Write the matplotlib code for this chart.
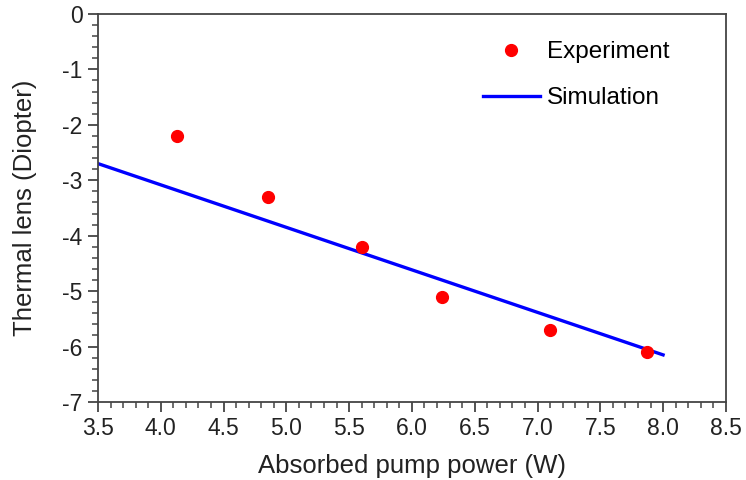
import matplotlib
matplotlib.use("Agg")
import matplotlib.pyplot as plt
from matplotlib.ticker import MultipleLocator, FormatStrFormatter, FuncFormatter

plt.rcParams['font.family'] = ['Liberation Sans', 'DejaVu Sans']

exp_x = [4.13, 4.85, 5.60, 6.24, 7.10, 7.87]
exp_y = [-2.2, -3.3, -4.2, -5.1, -5.7, -6.1]
sim_x = [3.5, 8.0]
sim_y = [-2.7, -6.15]

fig = plt.figure(figsize=(7.46, 4.80), dpi=100)
ax = fig.add_axes([0.1314, 0.1625, 0.8416, 0.8085])

ax.plot(exp_x, exp_y, 'o', color='#ff0000', markersize=8.5, label='Experiment', zorder=3)
ax.plot(sim_x, sim_y, '-', color='#0000ff', linewidth=2.4, label='Simulation', zorder=2)

ax.set_xlim(3.5, 8.5)
ax.set_ylim(-7, 0)
ax.xaxis.set_major_locator(MultipleLocator(0.5))
ax.xaxis.set_minor_locator(MultipleLocator(0.1))
ax.yaxis.set_major_locator(MultipleLocator(1))
ax.yaxis.set_minor_locator(MultipleLocator(0.2))
ax.xaxis.set_major_formatter(FormatStrFormatter('%.1f'))
ax.yaxis.set_major_formatter(FuncFormatter(lambda v, p: '%d' % round(v)))

spine_c = '#444444'
text_c = '#222222'
for s in ax.spines.values():
    s.set_color(spine_c)
    s.set_linewidth(1.3)
ax.tick_params(which='major', direction='out', length=7, width=1.3, color=spine_c,
               labelsize=16.5, labelcolor=text_c, pad=4)
ax.tick_params(which='minor', direction='out', length=4, width=1.1, color=spine_c)
ax.tick_params(which='both', top=False, right=False)

ax.set_xlabel('Absorbed pump power (W)', fontsize=18.5, color=text_c, labelpad=10)
ax.set_ylabel('Thermal lens (Diopter)', fontsize=18.5, color=text_c, labelpad=18)

leg = ax.legend(loc='upper left', bbox_to_anchor=(0.613, 0.93), frameon=False, fontsize=17.5,
                handlelength=2.35, handletextpad=0.3, labelspacing=1.0, numpoints=1,
                borderaxespad=0, borderpad=0)

fig.savefig('out.png', dpi=100)
